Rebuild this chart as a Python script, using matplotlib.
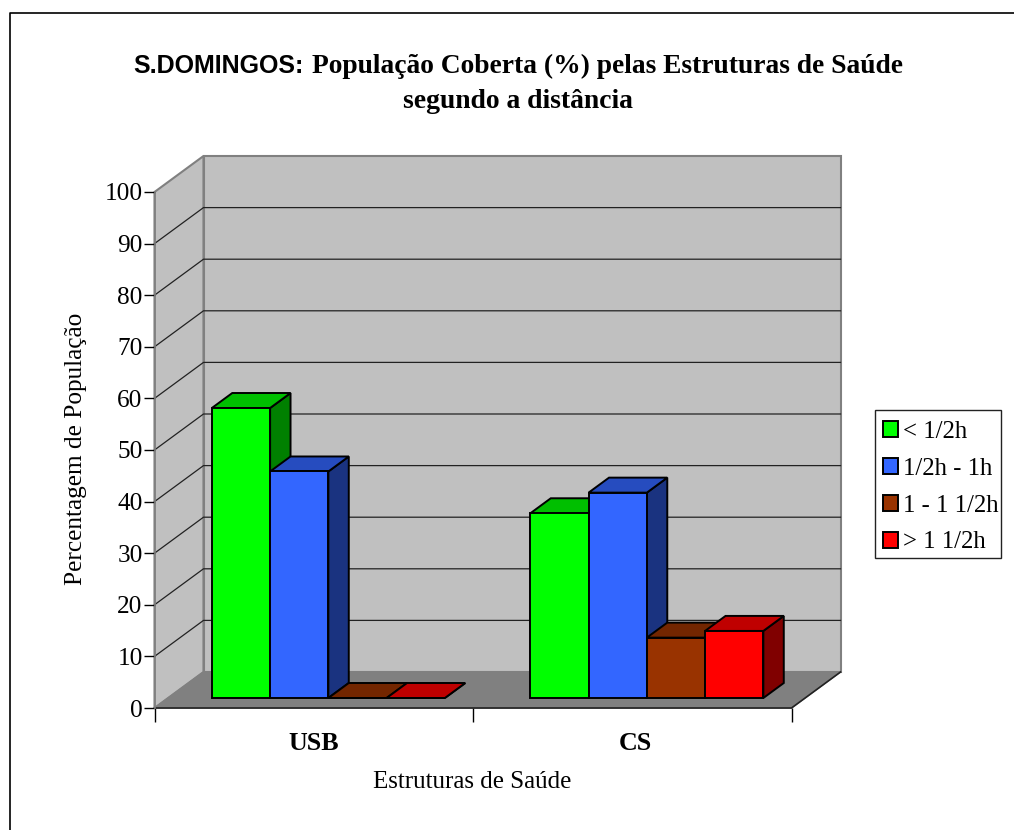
import matplotlib
matplotlib.use("Agg")
import matplotlib.pyplot as plt
from matplotlib.lines import Line2D
from matplotlib.patches import Patch, Polygon, Rectangle

categories = ["USB", "CS"]
series_names = ["< 1/2h", "1/2h - 1h", "1 - 1 1/2h", "> 1 1/2h"]
v_lt_half = [56.2, 35.8]
v_half_one = [43.9, 39.8]
v_one_onehalf = [0, 11.7]
v_gt_onehalf = [0, 13.0]
y_ticks = list(range(0, 101, 10))

front_cols = ["#00FF00", "#3366FF", "#993300", "#FF0000"]
top_cols = ["#00BF00", "#264CBF", "#732600", "#BF0000"]
side_cols = ["#008000", "#1A3380", "#4D1A00", "#800000"]

serif = "Liberation Serif"
W, H = 1014, 830

# depth of the fake 3d box, in data units
DX = 49 / 318.5
DY = 36 / 5.16
BAR_W = 58.25 / 318.5
BAR_SHIFT = 1 / 318.5
D_FRONT = 10 / 36
D_BACK = 25 / 36

fig = plt.figure(figsize=(W / 100, H / 100), dpi=100)
ax = fig.add_axes([154.5 / W, (H - 708) / H, 637 / W, 516 / H])
ax.set_xlim(0, 2)
ax.set_ylim(0, 100)
ax.patch.set_visible(False)

# outer frame: only top and left show in the picture
fig.add_artist(Line2D([9.5 / W, 9.5 / W, 1], [0, 1 - 13 / H, 1 - 13 / H], color="black", lw=1.2))


def poly(pts, fc, ec, lw, z):
    ax.add_patch(Polygon(pts, closed=True, facecolor=fc, edgecolor=ec, linewidth=lw, zorder=z, clip_on=False, joinstyle="miter"))


# walls and floor
poly([(0, 0), (0, 100), (DX, 100 + DY), (DX, DY)], "#C0C0C0", "#808080", 1.5, 1)
poly([(DX, DY), (DX, 100 + DY), (2 + DX, 100 + DY), (2 + DX, DY)], "#C0C0C0", "#808080", 1.5, 1)
poly([(0, 0), (DX, DY), (2 + DX, DY), (2, 0)], "#808080", "#808080", 1, 1)

for t in y_ticks[1:-1]:
    ax.plot([0, DX, 2 + DX], [t, t + DY, t + DY], color="#222222", lw=0.9, zorder=2, clip_on=False)
ax.plot([0, 2, 2 + DX], [0, 0, DY], color="#222222", lw=1.2, zorder=2, clip_on=False)

# bars
all_series = [v_lt_half, v_half_one, v_one_onehalf, v_gt_onehalf]
for c in range(len(categories)):
    for s, vals in enumerate(all_series):
        v = vals[c]
        x0 = c + 0.5 + BAR_SHIFT - 2 * BAR_W + s * BAR_W + D_FRONT * DX
        x1 = x0 + BAR_W
        y0 = D_FRONT * DY
        y1 = y0 + v
        ox = (D_BACK - D_FRONT) * DX
        oy = (D_BACK - D_FRONT) * DY
        z = 3 + s * 0.1
        poly([(x1, y0), (x1 + ox, y0 + oy), (x1 + ox, y1 + oy), (x1, y1)], side_cols[s], "black", 1.4, z)
        poly([(x0, y1), (x0 + ox, y1 + oy), (x1 + ox, y1 + oy), (x1, y1)], top_cols[s], "black", 1.4, z)
        poly([(x0, y0), (x1, y0), (x1, y1), (x0, y1)], front_cols[s], "black", 1.4, z)

for sp in ["top", "right", "bottom"]:
    ax.spines[sp].set_visible(False)
ax.spines["left"].set_color("#808080")
ax.spines["left"].set_linewidth(1.2)

ax.set_yticks(y_ticks)
ax.tick_params(axis="y", length=8, width=1, pad=0.5, labelsize=18.2)
ax.set_xticks([0, 1, 2])
ax.set_xticklabels(["", "", ""])
ax.tick_params(axis="x", length=10, width=1)
ax.set_xticks([0.5, 1.51], minor=True)
ax.set_xticklabels(categories, minor=True, family=serif, fontweight="bold", fontsize=18.7)
ax.tick_params(axis="x", which="minor", length=0, pad=17)
for lab in ax.get_yticklabels():
    lab.set_family(serif)

fig.text(73 / W + 3 / W, 1 - 449 / H, "Percentagem de População", family=serif, fontsize=18.2, rotation=90, ha="center", va="center")
fig.text(472 / W, 1 - 782 / H, "Estruturas de Saúde", family=serif, fontsize=18, ha="center", va="center")

# title, two fonts on line one
fig.text(133 / W, 1 - 73 / H, "S.DOMINGOS:", family="Liberation Sans", fontweight="bold", fontsize=18, ha="left", va="baseline")
fig.text(312 / W, 1 - 73 / H, "População Coberta (%) pelas Estruturas de Saúde", family=serif, fontweight="bold", fontsize=19.8, ha="left", va="baseline")
fig.text(518 / W, 1 - 108 / H, "segundo a distância", family=serif, fontweight="bold", fontsize=19.9, ha="center", va="baseline")

# legend box drawn apart, the text nearly touches its right edge
fig.add_artist(Rectangle((875 / W, 1 - 558 / H), 126 / W, 148 / H, transform=fig.transFigure,
                         facecolor="white", edgecolor="#222222", linewidth=1))
handles = [Patch(facecolor=c, edgecolor="black", linewidth=1.4) for c in front_cols]
leg = fig.legend(handles, series_names, loc="upper left", bbox_to_anchor=(883 / W, 1 - 421 / H),
                 bbox_transform=fig.transFigure, frameon=False,
                 prop={"family": serif, "size": 17.8}, handlelength=0.6, handleheight=0.6,
                 handletextpad=0.2, labelspacing=0.6, borderpad=0, borderaxespad=0)

fig.savefig("out.png", dpi=100)
